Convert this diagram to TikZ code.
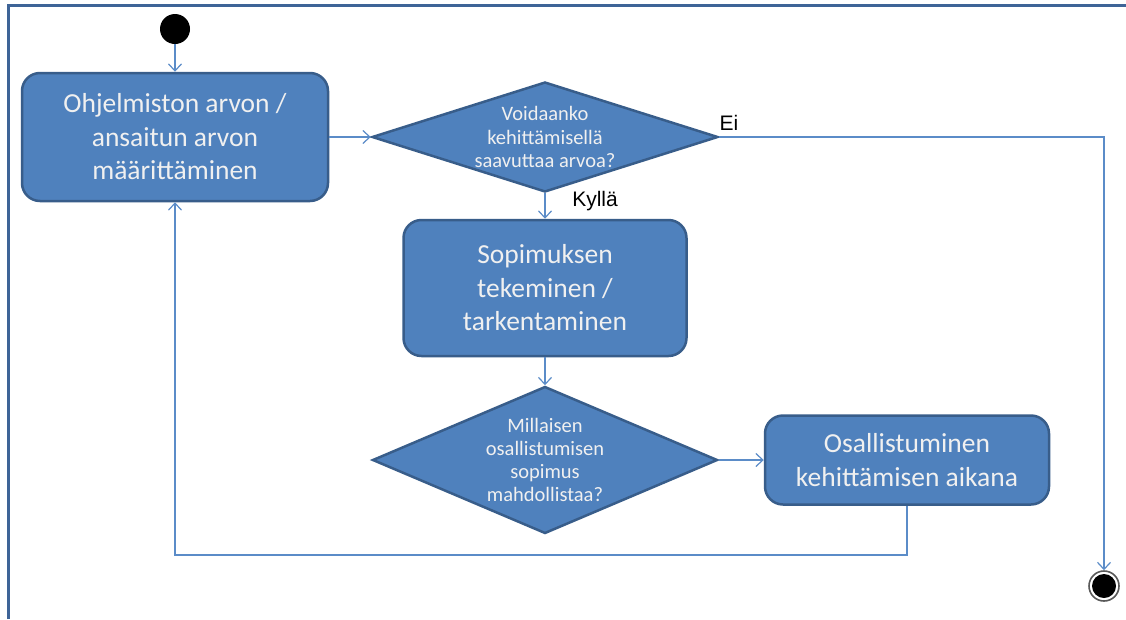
\documentclass[tikz,border=0pt]{standalone}
\usepackage{fontspec}
\setmainfont{Carlito}
\newfontfamily\labelfont{Liberation Sans}
\usetikzlibrary{shapes.geometric,arrows.meta}
\definecolor{boxfill}{HTML}{4F81BD}
\definecolor{boxedge}{HTML}{385D8A}
\definecolor{wire}{HTML}{5B8CC8}
\definecolor{frame}{HTML}{3E6497}
\begin{document}
\begin{tikzpicture}[x=1pt,y=-1pt,
  activity/.style={draw=boxedge, fill=boxfill, line width=2.5pt, rounded corners=18pt,
    text=white!94!black, align=center, font=\fontsize{27.5}{33.5}\selectfont, inner sep=0pt},
  decision/.style={diamond, draw=boxedge, fill=boxfill, line width=2.5pt, inner sep=0pt},
  dtext/.style={text=white!94!black, align=center, font=\fontsize{20.5}{23.2}\selectfont},
  flow/.style={draw=wire, line width=1.2pt, -{Straight Barb[length=7pt,width=13pt]}},
  guard/.style={font=\labelfont\fontsize{21}{24}\selectfont, text=black, inner sep=0pt}]
  \useasboundingbox (0,0) rectangle (1126,619);
  \fill[white] (0,0) rectangle (1126,619);
  % frame on top and left
  \draw[frame, line width=3pt] (8,619) -- (8,5) -- (1126,5);

  % initial and final states
  \node (start) [circle, fill=black, minimum size=30pt, inner sep=0pt] at (175,29) {};
  \node (stop) [circle, draw=black!65, line width=1.6pt, fill=white, minimum size=30pt, inner sep=0pt] at (1104,586) {};
  \node (stopdot) [circle, fill=black, minimum size=24pt, inner sep=0pt] at (1104,586) {};

  % activities
  \node (value) [activity, minimum width=306pt, minimum height=128pt] at (175,137)
    {Ohjelmiston arvon /\\ansaitun arvon\\määrittäminen};
  \node (contract) [activity, minimum width=283pt, minimum height=136pt] at (545,288)
    {Sopimuksen\\tekeminen /\\tarkentaminen};
  \node (part) [activity, minimum width=284pt, minimum height=89pt] at (907,460)
    {Osallistuminen\\kehittämisen aikana};

  % decisions
  \node (ask) [decision, minimum width=346pt, minimum height=110pt,
    label={[dtext]center:Voidaanko\\kehittämisellä\\saavuttaa arvoa?}] at (545,137) {};
  \node (kind) [decision, minimum width=345pt, minimum height=147pt,
    label={[dtext]center:Millaisen\\osallistumisen\\sopimus\\mahdollistaa?}] at (545,460) {};

  % connectors
  \draw[flow] (start) -- (value.north);
  \draw[flow] (value.east) -- (ask.west);
  \draw[flow] (ask.east) -| (stop.north);
  \node (no) [guard] at (729,123) {Ei};
  \draw[flow] (ask.south) -- (contract.north);
  \node (yes) [guard] at (595,201) {Kyllä};
  \draw[flow] (contract.south) -- (kind.north);
  \draw[flow] (kind.east) -- (part.west);
  \coordinate (back) at (907,555);
  \draw[flow] (part.south) -- (back) -| (value.south);
\end{tikzpicture}
\end{document}
